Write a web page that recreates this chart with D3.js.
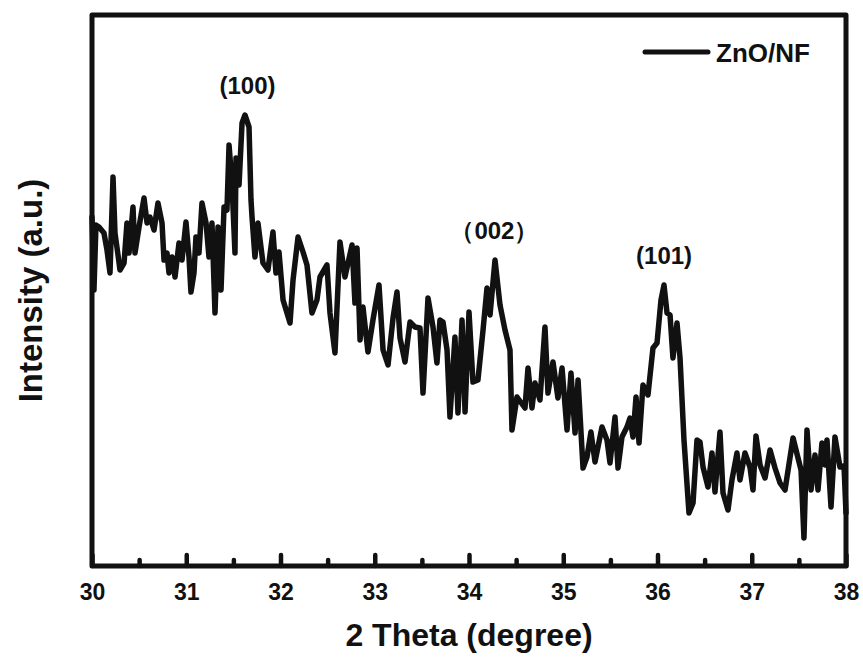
<!DOCTYPE html>
<html>
<head>
<meta charset="utf-8">
<script src="https://cdn.jsdelivr.net/npm/d3@7"></script>
<style>
  body { margin: 0; background: #fff; }
  svg text { font-family: "Liberation Sans", Arial, sans-serif; font-weight: bold; fill: #111; }
</style>
</head>
<body>
<div id="chart"></div>
<script>
// XRD pattern, ZnO/NF
let twoTheta = [30.000,30.021,30.042,30.074,30.127,30.159,30.191,30.223,30.244,30.276,30.297,30.340,30.371,30.393,30.435,30.456,30.499,30.552,30.584,30.615,30.658,30.700,30.743,30.764,30.796,30.817,30.849,30.881,30.923,30.955,30.997,31.029,31.050,31.082,31.103,31.135,31.167,31.210,31.241,31.273,31.305,31.337,31.369,31.401,31.432,31.454,31.485,31.517,31.528,31.560,31.592,31.623,31.666,31.687,31.698,31.729,31.761,31.814,31.867,31.920,31.952,31.984,32.027,32.101,32.133,32.186,32.239,32.281,32.334,32.387,32.419,32.493,32.525,32.578,32.631,32.684,32.759,32.790,32.812,32.844,32.875,32.928,32.981,33.045,33.088,33.141,33.194,33.236,33.268,33.321,33.374,33.427,33.480,33.512,33.565,33.618,33.660,33.692,33.724,33.767,33.798,33.851,33.883,33.926,33.958,34.000,34.042,34.095,34.149,34.191,34.223,34.276,34.329,34.382,34.435,34.456,34.509,34.594,34.626,34.668,34.700,34.753,34.806,34.838,34.891,34.944,34.987,35.040,35.082,35.125,35.157,35.210,35.252,35.294,35.337,35.411,35.464,35.496,35.549,35.581,35.623,35.676,35.708,35.740,35.772,35.804,35.846,35.899,35.952,35.995,36.037,36.069,36.101,36.133,36.164,36.207,36.239,36.281,36.334,36.377,36.419,36.451,36.483,36.536,36.578,36.610,36.663,36.695,36.748,36.790,36.843,36.875,36.928,36.981,37.013,37.045,37.088,37.141,37.194,37.247,37.300,37.353,37.438,37.491,37.523,37.554,37.586,37.629,37.671,37.703,37.745,37.777,37.798,37.841,37.883,37.936,37.979,38.000];
let intensity = [349,276,341,339,333,316,293,389,333,311,296,303,343,313,359,313,339,368,343,349,336,363,343,306,313,293,309,289,323,306,344,309,274,293,329,313,363,343,309,343,253,339,276,359,356,421,383,313,408,381,443,451,439,366,349,309,343,303,296,334,293,314,266,243,286,329,314,301,253,266,289,301,253,213,324,289,321,263,318,226,259,214,246,281,216,201,248,274,228,204,244,239,238,173,268,239,203,246,244,216,149,229,153,246,154,254,184,186,236,278,251,306,261,236,216,136,169,158,198,158,183,166,239,173,204,168,198,136,193,133,186,98,109,134,104,139,126,103,149,98,129,139,148,129,169,123,181,171,218,223,266,281,253,251,208,243,208,126,53,63,126,124,99,79,113,74,134,73,56,86,113,86,113,99,76,130,101,88,116,98,83,76,128,108,96,28,136,76,111,76,123,101,126,59,129,99,100,53];

let xTicks = [30,31,32,33,34,35,36,37,38];
let xMinorTicks = [30.5,31.5,32.5,33.5,34.5,35.5,36.5,37.5];
let peakLabels = ["(100)", "（002）", "(101)"];
let peakPos = [31.65, 34.27, 36.07];
let peakTop = [451, 306, 281];
let seriesName = "ZnO/NF";

let width = 863, height = 660;
let margin = {top: 15, right: 17, bottom: 94, left: 92};

let svg = d3.select("#chart").append("svg")
    .attr("width", width)
    .attr("height", height);

let x = d3.scaleLinear()
    .domain([30, 38])
    .range([margin.left, width - margin.right]);

let y = d3.scaleLinear()
    .domain([0, 551])
    .range([height - margin.bottom, margin.top]);

let data = twoTheta.map((t, i) => ({t: t, v: intensity[i]}));

let line = d3.line()
    .x(d => x(d.t))
    .y(d => y(d.v));

// the curve
svg.append("path")
    .datum(data)
    .attr("d", line)
    .attr("fill", "none")
    .attr("stroke", "#111")
    .attr("stroke-width", 5.5)
    .attr("stroke-linejoin", "round")
    .attr("stroke-linecap", "round");

// minor ticks
let minorAxis = svg.append("g")
    .attr("transform", `translate(0,${height - margin.bottom})`)
    .call(d3.axisBottom(x).tickValues(xMinorTicks).tickSize(-6).tickFormat(""));

// major ticks + labels
let xAxis = svg.append("g")
    .attr("transform", `translate(0,${height - margin.bottom})`)
    .call(d3.axisBottom(x).tickValues(xTicks).tickSize(-11).tickPadding(18).tickFormat(d3.format("d")));

[minorAxis, xAxis].forEach(g => {
    g.select(".domain").remove();
    g.selectAll(".tick line")
        .attr("stroke", "#111")
        .attr("stroke-width", 4.5)
        .attr("stroke-linecap", "round");
});
xAxis.selectAll(".tick text")
    .style("font-size", "23px")
    .attr("fill", "#111");

// frame
svg.append("rect")
    .attr("x", margin.left)
    .attr("y", margin.top)
    .attr("width", width - margin.left - margin.right)
    .attr("height", height - margin.top - margin.bottom)
    .attr("fill", "none")
    .attr("stroke", "#111")
    .attr("stroke-width", 5)
    .attr("stroke-linejoin", "round");

// peak labels
peakLabels.forEach((lbl, i) => {
    svg.append("text")
        .attr("x", x(peakPos[i]))
        .attr("y", y(peakTop[i]) - 21)
        .attr("text-anchor", "middle")
        .style("font-size", "24px")
        .text(lbl);
});

// legend
svg.append("line")
    .attr("x1", 645).attr("x2", 708)
    .attr("y1", 52).attr("y2", 52)
    .attr("stroke", "#111")
    .attr("stroke-width", 5)
    .attr("stroke-linecap", "round");
svg.append("text")
    .attr("x", 716)
    .attr("y", 62)
    .style("font-size", "26px")
    .text(seriesName);

// axis titles
svg.append("text")
    .attr("x", (margin.left + width - margin.right) / 2)
    .attr("y", 646)
    .attr("text-anchor", "middle")
    .style("font-size", "32px")
    .text("2 Theta (degree)");

svg.append("text")
    .attr("transform", `translate(42,${(margin.top + height - margin.bottom) / 2}) rotate(-90)`)
    .attr("text-anchor", "middle")
    .style("font-size", "33px")
    .text("Intensity (a.u.)");
</script>
</body>
</html>
